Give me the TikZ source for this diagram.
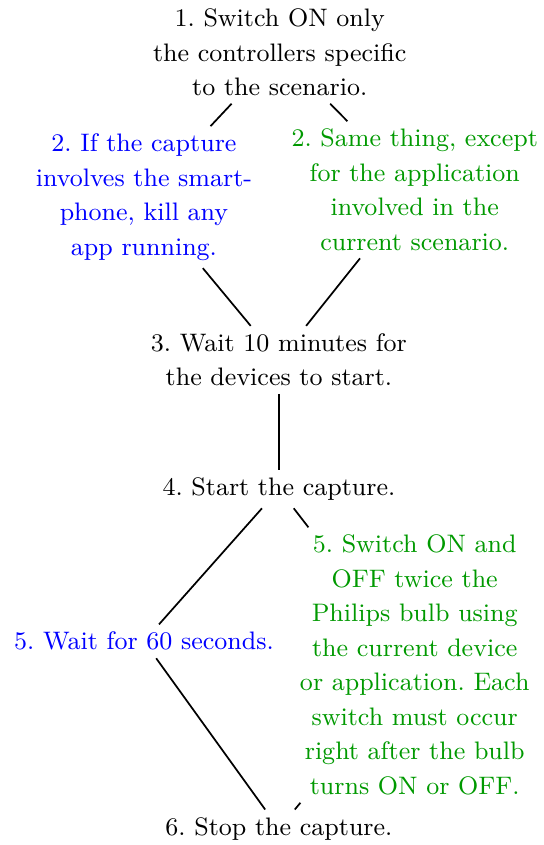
\documentclass[tikz,border=0pt]{standalone}
\usepackage{tikz}
\usetikzlibrary{positioning}
\frenchspacing

\begin{document}
\begin{tikzpicture}[
  every node/.style={align=center, inner sep=2.5pt, font=\fontsize{8.8}{12}\selectfont},
  common/.style={text=black},
  phone/.style={text=blue},
  app/.style={text=green!60!black},
  link/.style={semithick}
]
\useasboundingbox (0,0) rectangle (6.64,-10.33);

\node[common] (switchon) at (3.42,-0.64) {1. Switch ON only\\the controllers specific\\to the scenario.};
\node[phone]  (killapp)  at (1.76,-2.41) {2. If the capture\\involves the smart-\\phone, kill any\\app running.};
\node[app]    (sameapp)  at (5.07,-2.32) {2. Same thing, except\\for the application\\involved in the\\current scenario.};
\node[common] (wait)     at (3.41,-4.40) {3. Wait 10 minutes for\\the devices to start.};
\node[common] (start)    at (3.41,-5.98) {4. Start the capture.};
\node[phone]  (wait60)   at (1.76,-7.84) {5. Wait for 60 seconds.};
\node[app]    (bulb)     at (5.07,-8.13) {5. Switch ON and\\OFF twice the\\Philips bulb using\\the current device\\or application. Each\\switch must occur\\right after the bulb\\turns ON or OFF.};
\node[common] (stop)     at (3.41,-10.13) {6. Stop the capture.};

\draw[link] (switchon) -- (killapp);
\draw[link] (switchon) -- (sameapp);
\draw[link] (killapp)  -- (wait);
\draw[link] (sameapp)  -- (wait);
\draw[link] (wait)     -- (start);
\draw[link] (start)    -- (wait60);
\draw[link] (start)    -- (bulb);
\draw[link] (wait60)   -- (stop);
\draw[link] (bulb)     -- (stop);
\end{tikzpicture}
\end{document}
